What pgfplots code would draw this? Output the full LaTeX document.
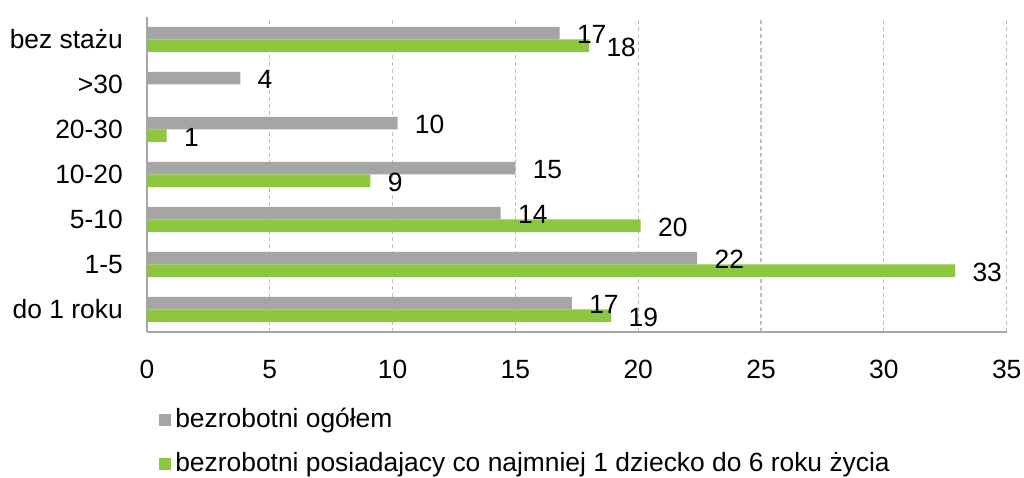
\documentclass[border=0pt]{standalone}
\usepackage{fontspec}
\setmainfont{Liberation Sans}
\usepackage{pgfplots}
\pgfplotsset{compat=1.18}
\definecolor{barGray}{HTML}{A5A5A5}
\definecolor{barGreen}{HTML}{8DC63F}
\definecolor{axGray}{HTML}{A6A6A6}
\definecolor{gridGray}{HTML}{BFBFBF}
\begin{document}
\fontsize{13.2bp}{15.5bp}\selectfont
\begin{tikzpicture}
\begin{axis}[
  scale only axis, width=430bp, height=157.5bp,
  xmin=0, xmax=35, ymin=-0.5, ymax=6.5,
  xtick={0,5,...,35}, ytick={0,...,6},
  yticklabels={do 1 roku,1-5,5-10,10-20,20-30,>30,bez stażu},
  /pgf/number format/assume math mode=true,
  axis x line*=bottom, axis y line*=left,
  axis line style={axGray, line width=1bp, -},
  major tick length=0pt,
  xmajorgrids, grid style={gridGray, dash pattern=on 2bp off 1.5bp, line width=0.6bp},
  xticklabel style={yshift=-9.5bp},
  yticklabel style={xshift=-7.5bp},
  xbar, bar width=6.3bp,
  nodes near coords={\pgfmathprintnumber[fixed,precision=0]{\pgfplotspointmeta}},
  point meta=x,
  every node near coord/.append style={anchor=west, inner sep=0pt, xshift=8.5bp, yshift=-0.7bp, text=black},
  legend style={at={(0,0)}, anchor=north west, xshift=3bp, yshift=-36bp, draw=none, fill=none,
    row sep=10.5bp, nodes={inner sep=0pt}},
  legend cell align=left,
]
\addplot[fill=barGray, draw=none, bar shift=3.15bp,
  legend image code/.code={\fill[barGray] (0bp,-2.9bp) rectangle (5.8bp,2.9bp); \path (0bp,0bp) -- (8bp,0bp);}]
  coordinates {(17.3,0) (22.4,1) (14.4,2) (15.0,3) (10.2,4) (3.8,5) (16.8,6)};
\addlegendentry{bezrobotni ogółem}
\addplot[fill=barGreen, draw=none, bar shift=-3.15bp,
  legend image code/.code={\fill[barGreen] (0bp,-2.9bp) rectangle (5.8bp,2.9bp); \path (0bp,0bp) -- (8bp,0bp);}]
  coordinates {(18.9,0) (32.9,1) (20.1,2) (9.1,3) (0.8,4) (18.0,6)};
\addlegendentry{bezrobotni posiadajacy co najmniej 1 dziecko do 6 roku życia}
\coordinate (BL) at (rel axis cs:0,0);
\coordinate (TR) at (rel axis cs:1,1);
\end{axis}
\pgfresetboundingbox
\path[use as bounding box] ([xshift=-73.5bp,yshift=-73bp]BL) rectangle ([xshift=8.65bp,yshift=8.5bp]TR);
\end{tikzpicture}
\end{document}
